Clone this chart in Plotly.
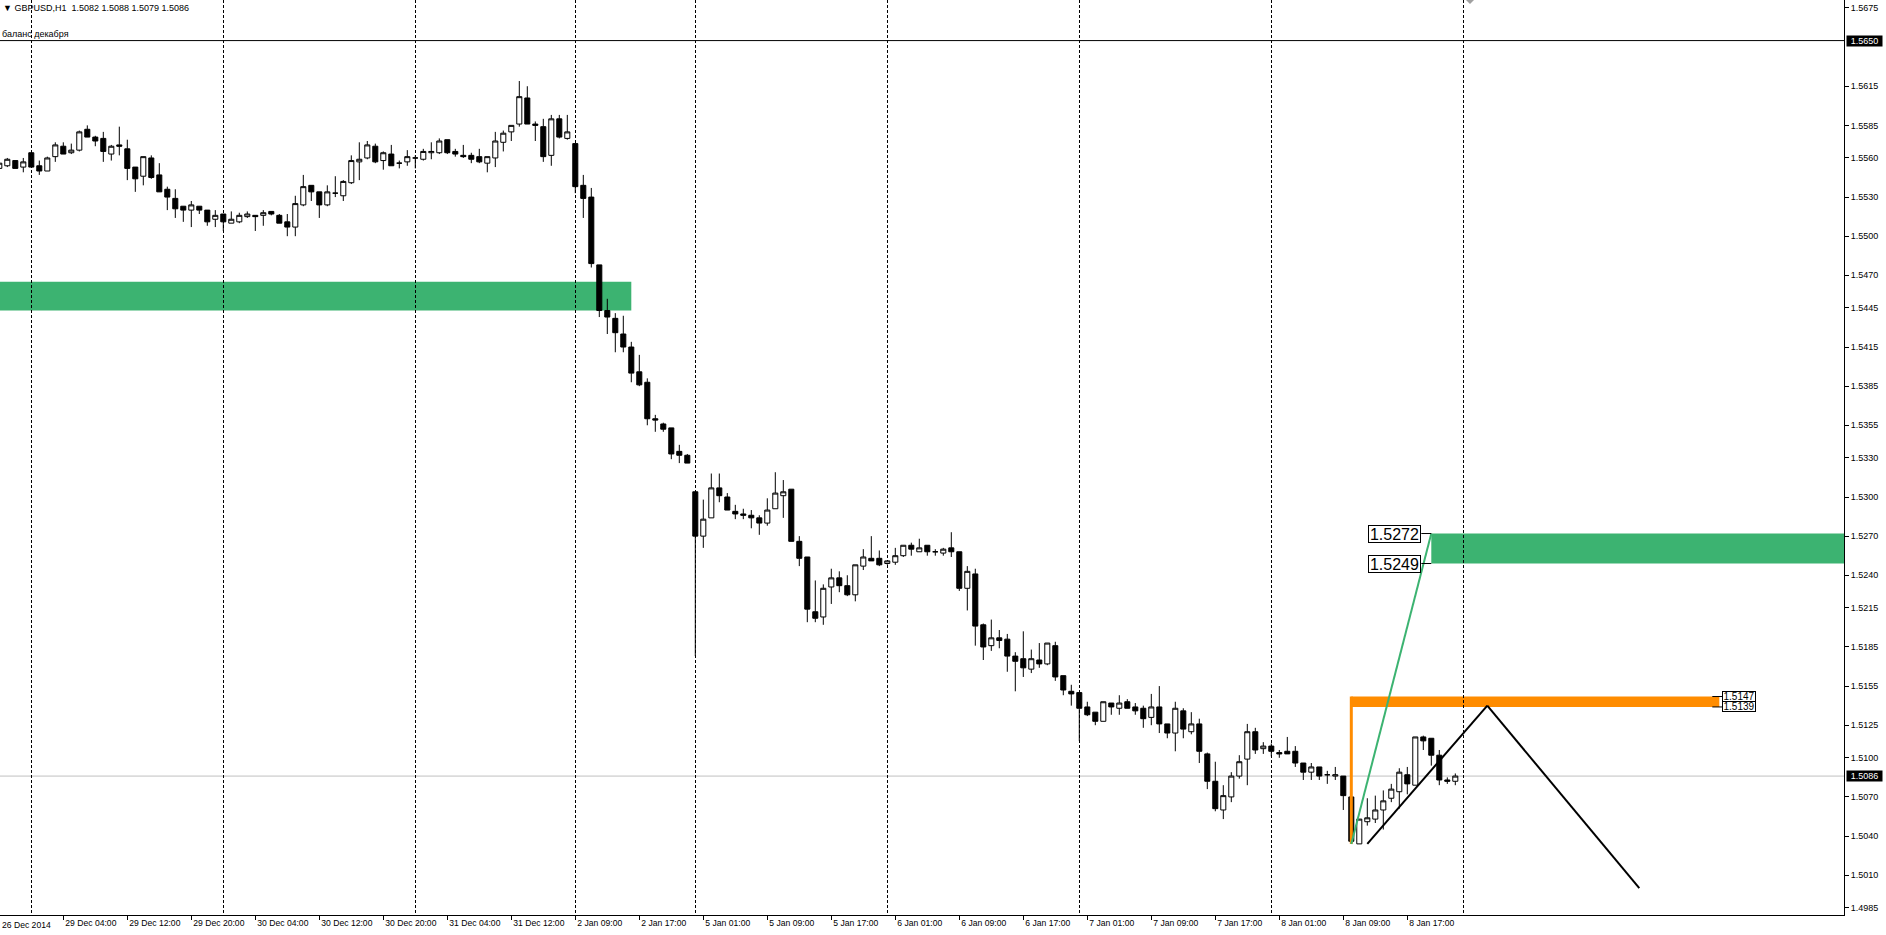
import plotly.graph_objects as go

# ---------------- data (GBPUSD H1, bar index 0..182) ----------------
opens = [1.5552,1.5554,1.5558,1.5553,1.5564,1.5554,1.5550,1.5561,1.5569,1.5564,
         1.5566,1.5582,1.5576,1.5575,1.5563,1.5570,1.5567,1.5553,1.5546,1.5560,
         1.5547,1.5536,1.5529,1.5523,1.5520,1.5523,1.5520,1.5513,1.5517,1.5510,
         1.5511,1.5515,1.5516,1.5516,1.5519,1.5516,1.5511,1.5507,1.5524,1.5539,
         1.5534,1.5524,1.5533,1.5531,1.5541,1.5557,1.5560,1.5569,1.5558,1.5563,
         1.5556,1.5557,1.5560,1.5559,1.5564,1.5564,1.5574,1.5565,1.5562,1.5562,
         1.5561,1.5556,1.5560,1.5572,1.5580,1.5586,1.5606,1.5586,1.5584,1.5562,
         1.5590,1.5575,1.5571,1.5539,1.5530,1.5478,1.5443,1.5437,1.5425,1.5415,
         1.5396,1.5388,1.5360,1.5356,1.5353,1.5335,1.5332,1.5304,1.5270,1.5284,
         1.5307,1.5300,1.5289,1.5287,1.5286,1.5284,1.5280,1.5291,1.5301,1.5306,
         1.5266,1.5254,1.5212,1.5208,1.5231,1.5238,1.5232,1.5225,1.5247,1.5253,
         1.5253,1.5249,1.5250,1.5255,1.5263,1.5258,1.5263,1.5258,1.5257,1.5261,
         1.5258,1.5230,1.5241,1.5202,1.5186,1.5192,1.5191,1.5178,1.5176,1.5168,
         1.5175,1.5172,1.5186,1.5163,1.5151,1.5150,1.5139,1.5135,1.5128,1.5142,
         1.5138,1.5143,1.5139,1.5138,1.5131,1.5139,1.5126,1.5119,1.5136,1.5120,
         1.5126,1.5103,1.5082,1.5060,1.5070,1.5086,1.5099,1.5120,1.5107,1.5109,
         1.5104,1.5105,1.5105,1.5096,1.5089,1.5093,1.5087,1.5086,1.5086,1.5070,
         1.5034,1.5051,1.5053,1.5060,1.5069,1.5074,1.5087,1.5079,1.5116,1.5115,
         1.5102,1.5083,1.5082]
highs = [1.5557,1.5560,1.5558,1.5560,1.5564,1.5558,1.5561,1.5572,1.5572,1.5571,
         1.5581,1.5585,1.5577,1.5580,1.5570,1.5584,1.5574,1.5553,1.5561,1.5562,
         1.5556,1.5538,1.5536,1.5523,1.5527,1.5523,1.5520,1.5520,1.5517,1.5519,
         1.5518,1.5519,1.5516,1.5520,1.5519,1.5517,1.5517,1.5531,1.5547,1.5539,
         1.5534,1.5539,1.5546,1.5543,1.5562,1.5572,1.5573,1.5571,1.5565,1.5570,
         1.5558,1.5566,1.5562,1.5567,1.5572,1.5575,1.5574,1.5567,1.5570,1.5564,
         1.5567,1.5561,1.5580,1.5581,1.5585,1.5619,1.5615,1.5588,1.5590,1.5593,
         1.5593,1.5593,1.5571,1.5547,1.5537,1.5478,1.5452,1.5441,1.5439,1.5419,
         1.5409,1.5391,1.5363,1.5357,1.5353,1.5340,1.5333,1.5304,1.5298,1.5318,
         1.5318,1.5303,1.5294,1.5291,1.5290,1.5286,1.5299,1.5319,1.5313,1.5306,
         1.5270,1.5254,1.5236,1.5233,1.5245,1.5243,1.5240,1.5248,1.5260,1.5270,
         1.5259,1.5251,1.5261,1.5263,1.5265,1.5268,1.5263,1.5260,1.5261,1.5273,
         1.5258,1.5247,1.5245,1.5203,1.5206,1.5198,1.5195,1.5181,1.5197,1.5183,
         1.5188,1.5188,1.5189,1.5163,1.5156,1.5150,1.5143,1.5135,1.5143,1.5142,
         1.5148,1.5145,1.5142,1.5140,1.5149,1.5155,1.5126,1.5143,1.5138,1.5135,
         1.5130,1.5104,1.5097,1.5079,1.5089,1.5102,1.5126,1.5123,1.5112,1.5111,
         1.5106,1.5116,1.5109,1.5096,1.5096,1.5093,1.5090,1.5093,1.5086,1.5070,
         1.5053,1.5069,1.5071,1.5075,1.5080,1.5092,1.5093,1.5116,1.5117,1.5115,
         1.5106,1.5085,1.5088]
lows = [1.5551,1.5553,1.5552,1.5549,1.5553,1.5547,1.5550,1.5557,1.5563,1.5563,
        1.5565,1.5576,1.5569,1.5557,1.5558,1.5562,1.5543,1.5534,1.5539,1.5544,
        1.5534,1.5520,1.5514,1.5511,1.5507,1.5517,1.5508,1.5507,1.5504,1.5510,
        1.5510,1.5514,1.5504,1.5508,1.5516,1.5510,1.5500,1.5500,1.5523,1.5527,
        1.5514,1.5523,1.5530,1.5527,1.5540,1.5543,1.5559,1.5556,1.5551,1.5554,
        1.5552,1.5554,1.5552,1.5558,1.5559,1.5563,1.5563,1.5561,1.5560,1.5556,
        1.5556,1.5549,1.5553,1.5565,1.5573,1.5584,1.5586,1.5573,1.5557,1.5554,
        1.5575,1.5574,1.5533,1.5514,1.5476,1.5438,1.5425,1.5411,1.5411,1.5388,
        1.5385,1.5355,1.5350,1.5350,1.5329,1.5326,1.5326,1.5178,1.5261,1.5284,
        1.5296,1.5290,1.5283,1.5283,1.5276,1.5271,1.5278,1.5291,1.5284,1.5266,
        1.5247,1.5204,1.5204,1.5202,1.5218,1.5227,1.5224,1.5220,1.5244,1.5251,
        1.5247,1.5248,1.5248,1.5254,1.5255,1.5258,1.5255,1.5255,1.5255,1.5254,
        1.5228,1.5213,1.5186,1.5175,1.5182,1.5184,1.5166,1.5151,1.5162,1.5165,
        1.5169,1.5171,1.5159,1.5148,1.5140,1.5113,1.5132,1.5125,1.5128,1.5133,
        1.5133,1.5138,1.5133,1.5123,1.5125,1.5119,1.5115,1.5105,1.5115,1.5118,
        1.5096,1.5076,1.5059,1.5053,1.5066,1.5084,1.5079,1.5103,1.5103,1.5101,
        1.5100,1.5103,1.5093,1.5083,1.5083,1.5083,1.5080,1.5083,1.5060,1.5034,
        1.5034,1.5048,1.5050,1.5045,1.5066,1.5061,1.5072,1.5079,1.5106,1.5094,
        1.5079,1.5080,1.5079]
closes = [1.5556,1.5559,1.5552,1.5557,1.5553,1.5550,1.5560,1.5570,1.5563,1.5566,
          1.5580,1.5576,1.5573,1.5565,1.5569,1.5569,1.5552,1.5544,1.5561,1.5545,
          1.5534,1.5530,1.5521,1.5520,1.5524,1.5520,1.5511,1.5516,1.5511,1.5513,
          1.5516,1.5517,1.5515,1.5518,1.5517,1.5510,1.5507,1.5525,1.5538,1.5534,
          1.5524,1.5534,1.5533,1.5542,1.5558,1.5559,1.5570,1.5557,1.5564,1.5554,
          1.5556,1.5561,1.5560,1.5565,1.5565,1.5573,1.5564,1.5563,1.5561,1.5559,
          1.5557,1.5561,1.5573,1.5579,1.5585,1.5607,1.5586,1.5585,1.5561,1.5590,
          1.5576,1.5580,1.5538,1.5529,1.5479,1.5443,1.5438,1.5426,1.5415,1.5395,
          1.5386,1.5360,1.5359,1.5352,1.5333,1.5332,1.5326,1.5270,1.5283,1.5307,
          1.5301,1.5290,1.5287,1.5286,1.5284,1.5280,1.5290,1.5303,1.5304,1.5266,
          1.5253,1.5214,1.5207,1.5230,1.5238,1.5232,1.5225,1.5248,1.5254,1.5251,
          1.5248,1.5251,1.5255,1.5263,1.5260,1.5261,1.5258,1.5258,1.5260,1.5258,
          1.5230,1.5243,1.5201,1.5185,1.5192,1.5190,1.5178,1.5174,1.5169,1.5176,
          1.5172,1.5188,1.5162,1.5152,1.5149,1.5138,1.5133,1.5128,1.5143,1.5139,
          1.5142,1.5138,1.5136,1.5130,1.5139,1.5126,1.5119,1.5138,1.5122,1.5126,
          1.5105,1.5082,1.5061,1.5071,1.5086,1.5097,1.5120,1.5106,1.5109,1.5105,
          1.5103,1.5103,1.5096,1.5089,1.5093,1.5086,1.5087,1.5087,1.5071,1.5036,
          1.5053,1.5054,1.5060,1.5067,1.5076,1.5089,1.5080,1.5116,1.5113,1.5102,
          1.5083,1.5082,1.5086]
bars = list(range(len(opens)))

# time axis labels (bar index -> label)
time_tick_bars = [8, 16, 24, 32, 40, 48, 56, 64, 72, 80, 88, 96, 104, 112,
                  120, 128, 136, 144, 152, 160, 168, 176]
time_tick_labels = ["29 Dec 04:00", "29 Dec 12:00", "29 Dec 20:00", "30 Dec 04:00",
                    "30 Dec 12:00", "30 Dec 20:00", "31 Dec 04:00", "31 Dec 12:00",
                    "2 Jan 09:00", "2 Jan 17:00", "5 Jan 01:00", "5 Jan 09:00",
                    "5 Jan 17:00", "6 Jan 01:00", "6 Jan 09:00", "6 Jan 17:00",
                    "7 Jan 01:00", "7 Jan 09:00", "7 Jan 17:00", "8 Jan 01:00",
                    "8 Jan 09:00", "8 Jan 17:00"]
first_label = "26 Dec 2014"
day_start_bars = [4, 28, 52, 72, 87, 111, 135, 159, 183]

price_ticks = [1.5675, 1.5615, 1.5585, 1.5560, 1.5530, 1.5500, 1.5470, 1.5445,
               1.5415, 1.5385, 1.5355, 1.5330, 1.5300, 1.5270, 1.5240, 1.5215,
               1.5185, 1.5155, 1.5125, 1.5100, 1.5070, 1.5040, 1.5010, 1.4985]

# drawn objects (bar index, price)
hline_price = 1.5650
hline_text = "баланс декабря"
bid_price = 1.5086
zone1 = dict(x0=-10, x1=79, low=1.5443, high=1.5465)
zone2 = dict(x0=179, x1=260, low=1.5249, high=1.5272)
zone3 = dict(x0=169, x1=215, low=1.5139, high=1.5147)
orange_vline = dict(x=169, low=1.5034, high=1.5147)
green_trend = dict(x0=169, y0=1.5034, x1=179, y1=1.5272)
zigzag_x = [171, 186, 205]
zigzag_y = [1.5034, 1.5140, 1.5000]
header = "▼ GBPUSD,H1  1.5082 1.5088 1.5079 1.5086"

X_RANGE = [0.0875, 230.5875]
Y_RANGE = [1.497946, 1.568113]
FONT = "Liberation Sans, Arial, DejaVu Sans, sans-serif"
GREEN = "#3CB371"
ORANGE = "#FF8C00"

fig = go.Figure()
fig.add_trace(go.Candlestick(
    x=bars, open=opens, high=highs, low=lows, close=closes,
    increasing=dict(line=dict(color="black", width=1), fillcolor="white"),
    decreasing=dict(line=dict(color="black", width=1), fillcolor="black"),
    whiskerwidth=0, showlegend=False, hoverinfo="skip"))

shapes = []
for z, col in ((zone1, GREEN), (zone2, GREEN), (zone3, ORANGE)):
    shapes.append(dict(type="rect", xref="x", yref="y", x0=z["x0"], x1=z["x1"],
                       y0=z["low"], y1=z["high"], fillcolor=col,
                       line=dict(width=0), layer="below"))
shapes.append(dict(type="line", xref="paper", yref="y", x0=0, x1=1,
                   y0=hline_price, y1=hline_price, line=dict(color="black", width=1)))
shapes.append(dict(type="line", xref="paper", yref="y", x0=0, x1=1,
                   y0=bid_price, y1=bid_price, line=dict(color="#c0c0c0", width=1),
                   layer="below"))
shapes.append(dict(type="line", xref="x", yref="y", x0=orange_vline["x"],
                   x1=orange_vline["x"], y0=orange_vline["low"], y1=orange_vline["high"],
                   line=dict(color=ORANGE, width=3)))
shapes.append(dict(type="line", xref="x", yref="y", x0=green_trend["x0"],
                   y0=green_trend["y0"], x1=green_trend["x1"], y1=green_trend["y1"],
                   line=dict(color=GREEN, width=2)))
for k in range(len(zigzag_x) - 1):
    shapes.append(dict(type="line", xref="x", yref="y", x0=zigzag_x[k], y0=zigzag_y[k],
                       x1=zigzag_x[k + 1], y1=zigzag_y[k + 1],
                       line=dict(color="black", width=2)))
# small price-label leaders
for p in (zone2["high"], zone2["low"]):
    shapes.append(dict(type="line", xref="x", yref="y", xsizemode="pixel",
                       xanchor=zone2["x0"], x0=-10, x1=0, y0=p, y1=p,
                       line=dict(color="black", width=1)))
for p in (zone3["high"], zone3["low"]):
    shapes.append(dict(type="line", xref="x", yref="y", xsizemode="pixel",
                       xanchor=zone3["x1"], x0=-7, x1=4, y0=p, y1=p,
                       line=dict(color="black", width=1)))
# chart-shift marker at top
shapes.append(dict(type="path", xref="paper", yref="paper",
                   path="M 0.79501 1 L 0.79935 1 L 0.79718 0.99563 Z",
                   fillcolor="#a0a0a0", line=dict(width=0)))

annotations = []
annotations.append(dict(text=header, xref="paper", yref="paper", x=0, y=1,
                        xanchor="left", yanchor="top", xshift=1, yshift=-1,
                        showarrow=False, font=dict(family=FONT, size=9, color="black")))
annotations.append(dict(text=hline_text, xref="paper", yref="y", x=0, y=hline_price,
                        xanchor="left", yanchor="bottom", xshift=0, yshift=0,
                        showarrow=False, font=dict(family=FONT, size=9, color="black")))
annotations.append(dict(text=first_label, xref="paper", yref="paper", x=0, y=0,
                        xanchor="left", yanchor="top", xshift=0, yshift=-3,
                        showarrow=False, font=dict(family=FONT, size=8.6, color="black")))
for p in (hline_price, bid_price):
    annotations.append(dict(text=f"{p:.4f}", xref="paper", yref="y", x=1, y=p,
                            xanchor="left", yanchor="middle", xshift=2,
                            showarrow=False, bgcolor="black", width=35, height=10,
                            borderpad=0,
                            font=dict(family=FONT, size=9, color="white")))
for p in (zone2["high"], zone2["low"]):
    annotations.append(dict(text=f"{p:.4f}", xref="x", yref="y", x=zone2["x0"], y=p,
                            xanchor="right", yanchor="middle", xshift=-10,
                            showarrow=False, bgcolor="white", bordercolor="black",
                            borderwidth=1, borderpad=0, width=51, height=16,
                            font=dict(family=FONT, size=16, color="black")))
for p in (zone3["high"], zone3["low"]):
    annotations.append(dict(text=f"{p:.4f}", xref="x", yref="y", x=zone3["x1"], y=p,
                            xanchor="left", yanchor="middle", xshift=3,
                            showarrow=False, bgcolor="white", bordercolor="black",
                            borderwidth=1, borderpad=0, width=32, height=9,
                            font=dict(family=FONT, size=10, color="black")))

fig.update_layout(
    width=1886, height=935,
    margin=dict(l=0, r=42, t=0, b=20, pad=0),
    paper_bgcolor="white", plot_bgcolor="white",
    boxgap=0.37, boxgroupgap=0,
    showlegend=False,
    shapes=shapes, annotations=annotations,
    font=dict(family=FONT, size=9, color="black"),
    xaxis=dict(range=X_RANGE, rangeslider=dict(visible=False), showgrid=False,
               zeroline=False, showline=True, linecolor="black", linewidth=1,
               ticks="outside", ticklen=4, tickcolor="black", tickwidth=1,
               tickmode="array", tickvals=time_tick_bars, ticktext=time_tick_labels,
               ticklabelposition="outside right", ticklabelshift=1,
               tickfont=dict(family=FONT, size=8.6, color="black"),
               minor=dict(tickmode="array", tickvals=day_start_bars, showgrid=True,
                          gridcolor="black", griddash="3px,2px", gridwidth=1, ticks=""),
               fixedrange=True),
    yaxis=dict(range=Y_RANGE, side="right", showgrid=False, zeroline=False,
               showline=True, linecolor="black", linewidth=1,
               ticks="outside", ticklen=4, tickcolor="black", tickwidth=1,
               tickmode="array", tickvals=price_ticks,
               ticktext=[f"{v:.4f}" for v in price_ticks],
               tickfont=dict(family=FONT, size=9, color="black"),
               fixedrange=True),
)

fig.write_html("out.html", config={"displayModeBar": False},
               post_script="document.body.style.margin='0';document.body.style.overflow='hidden';")
